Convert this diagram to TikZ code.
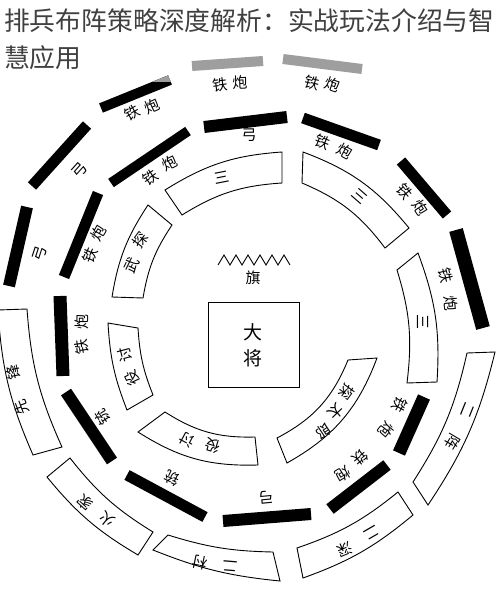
\documentclass[tikz,border=0pt]{standalone}
\usepackage{fontspec}
\newfontfamily\cjk{Noto Sans CJK SC}
\usetikzlibrary{positioning}
\tikzset{%
	bar/.style     = {line width=12pt}, % iron-gun or bow rank
	fadebar/.style = {line width=10pt, draw=black!38}, % faded rank at the top
	ringbox/.style = {draw, line width=0.9pt}, % troop box on a ring
	lbl/.style     = {font=\cjk\fontsize{15}{15}\selectfont, inner sep=0pt},
	biglbl/.style  = {font=\cjk\fontsize{19}{19}\selectfont, inner sep=0pt},
	title/.style   = {font=\cjk\fontsize{25.8}{25.8}\selectfont, text=black!75, inner sep=0pt, anchor=base west},
}
% curved box: outer start, outer end, inner end, inner start, bend
\newcommand{\ringbox}[5]{\draw[ringbox] #1 to[bend left=#5] #2 -- #3 to[bend right=#5] #4 -- cycle;}
% label turned along the ring: name, x, y, text
\newcommand{\ringlabel}[4]{%
	\pgfmathsetmacro{\labrot}{atan2(322-#3,#2-250)-90}
	\node[lbl, rotate=\labrot] (#1) at (#2,#3) {#4};}

\begin{document}
\begin{tikzpicture}[x=1pt, y=-1pt]
	\useasboundingbox (0,0) rectangle (500,596);
	\fill[white] (0,0) rectangle (500,596);

	% title
	\node[title] (title1) at (4,31) {排兵布阵策略深度解析：实战玩法介绍与智};
	\node[title] (title2) at (4,68) {慧应用};

	% outer ring
	\draw[fadebar] (192,66) -- (263,61);
	\draw[fadebar] (283,59) -- (362,69);
	\draw[bar, line width=10pt] (101,108) -- (170,80);
	\fill[black!38] (152,82) -- (168,75.4) -- (171,82) -- cycle;
	\draw[bar, line width=11pt] (32,186) -- (87,125);
	\draw[bar] (27,207) -- (9,286);
	\ringbox{(33,455)}{(-2,310)}{(27,309)}{(62,447)}{10}
	\ringbox{(138,555)}{(47,477)}{(70,458)}{(153,532)}{10}
	\ringbox{(280,581)}{(153,550)}{(168,535)}{(273,552)}{8}
	\ringbox{(413,515)}{(303,578)}{(297,548)}{(398,492)}{10}
	\ringbox{(495,352)}{(428,505)}{(413,482)}{(467,353)}{10}

	\ringlabel{o1a}{220}{85}{铁}  \ringlabel{o1b}{240}{82}{炮}
	\ringlabel{o2a}{312}{83}{铁}  \ringlabel{o2b}{332}{85}{炮}
	\ringlabel{o3a}{132}{113}{铁} \ringlabel{o3b}{152}{106}{炮}
	\ringlabel{o4}{80}{170}{弓}
	\ringlabel{o5}{40}{254}{弓}
	\ringlabel{vana}{22}{407}{先}  \ringlabel{vanb}{13}{372}{锋}
	\ringlabel{reara}{107}{520}{火} \ringlabel{rearb}{85}{503}{家}
	\ringlabel{cuna}{230}{566}{二} \ringlabel{cunb}{200}{563}{村}
	\ringlabel{shena}{372}{533}{二} \ringlabel{shenb}{345}{550}{深}
	\ringlabel{zhena}{468}{410}{二} \ringlabel{zhenb}{453}{442}{阵}

	% middle ring
	\draw[bar] (204,127) -- (287,117);
	\draw[bar, line width=11pt] (303,118) -- (379,145);
	\draw[bar, line width=11pt] (401,161) -- (447,215);
	\draw[bar, line width=14pt] (456,230) -- (483,328);
	\draw[bar, line width=13pt] (424,397) -- (399,453);
	\draw[bar] (387,465) -- (330,509);
	\draw[bar] (223,521) -- (311,514);
	\draw[bar, line width=11pt] (127,475) -- (205,517);
	\draw[bar] (66,392) -- (112,461);
	\draw[bar, line width=13pt] (60,296) -- (63,376);
	\draw[bar, line width=11pt] (98,193) -- (64,277);
	\draw[bar, line width=10pt] (111,183) -- (188,131);

	\ringlabel{m1}{249}{135}{弓}
	\ringlabel{m2a}{323}{142}{铁} \ringlabel{m2b}{345}{151}{炮}
	\ringlabel{m3a}{405}{192}{铁} \ringlabel{m3b}{420}{208}{炮}
	\ringlabel{m4a}{446}{275}{铁} \ringlabel{m4b}{451}{303}{炮}
	\ringlabel{m5a}{400}{405}{铁} \ringlabel{m5b}{386}{430}{炮}
	\ringlabel{m6a}{360}{458}{铁} \ringlabel{m6b}{343}{474}{炮}
	\ringlabel{m7}{267}{497}{弓}
	\ringlabel{m8}{172}{478}{铳}
	\ringlabel{m9}{103}{417}{铳}
	\ringlabel{m10a}{82}{347}{铁} \ringlabel{m10b}{82}{322}{炮}
	\ringlabel{m11a}{90}{255}{铁} \ringlabel{m11b}{98}{233}{炮}
	\ringlabel{m12a}{150}{178}{铁} \ringlabel{m12b}{170}{163}{炮}

	% inner ring
	\ringbox{(165,190)}{(282,152)}{(282,183)}{(182,215)}{14}
	\ringbox{(303,152)}{(409,228)}{(385,248)}{(302,183)}{15}
	\ringbox{(418,253)}{(437,382)}{(407,383)}{(397,270)}{12}
	\ringbox{(377,358)}{(287,463)}{(277,438)}{(348,360)}{20}
	\ringbox{(258,465)}{(138,432)}{(165,412)}{(255,437)}{17}
	\ringbox{(127,410)}{(108,323)}{(138,328)}{(153,395)}{9}
	\ringbox{(112,297)}{(148,205)}{(172,225)}{(143,298)}{12}

	\ringlabel{i1}{222}{178}{三}
	\ringlabel{i2}{360}{196}{三}
	\ringlabel{i3}{423}{322}{三}
	\ringlabel{i4a}{347}{392}{探} \ringlabel{i4b}{336}{412}{太} \ringlabel{i4c}{323}{431}{郎}
	\ringlabel{i5a}{213}{446}{役} \ringlabel{i5b}{187}{440}{讨}
	\ringlabel{i6a}{132}{378}{役} \ringlabel{i6b}{125}{355}{讨}
	\ringlabel{i7a}{132}{265}{武} \ringlabel{i7b}{140}{240}{探}

	% banner and general
	\draw[line width=0.9pt] (218,265) \foreach \i in {1,...,6} { -- ++(6,-10) -- ++(6,10) };
	\node[lbl] (flag) at (253,278) {旗};
	\node[draw, line width=1pt, minimum width=91pt, minimum height=85pt] (general) at (254,345) {};
	\node[biglbl] (da) at (253,332) {大};
	\node[biglbl, below=8pt of da] (jiang) {将};
\end{tikzpicture}
\end{document}
